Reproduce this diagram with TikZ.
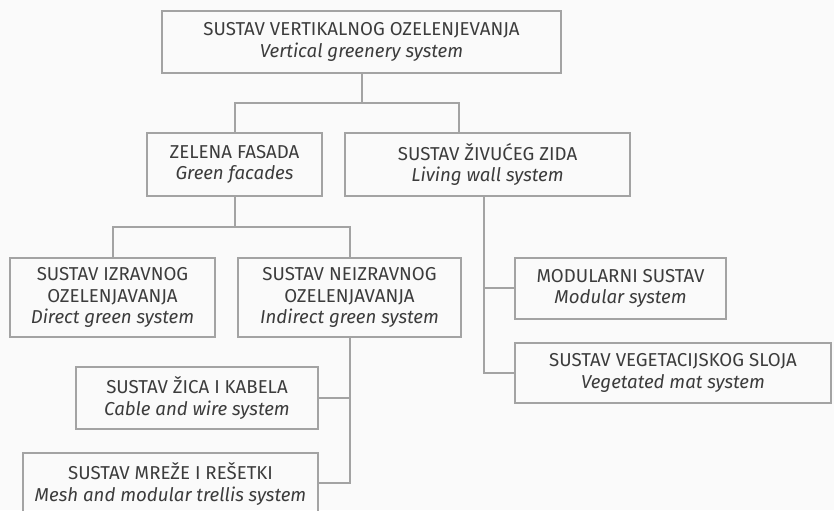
\documentclass[tikz,border=0pt]{standalone}
\usepackage{fontspec}
\setmainfont{Fira Sans}
\definecolor{txt}{HTML}{3C3C3C}
\definecolor{ln}{HTML}{A3A3A3}
\begin{document}
\begin{tikzpicture}[x=0.75pt,y=-0.75pt,
  box/.style={draw=ln,line width=0.8pt,rectangle,inner sep=0pt,align=center,text=txt,font=\fontsize{14}{16.1}\selectfont},
  conn/.style={draw=ln,line width=0.8pt}]
\useasboundingbox (0,0) rectangle (834,510);
\clip (0,0) rectangle (834,510);
\fill[white!98!black] (0,0) rectangle (834,510);
\node[box,minimum width=299.25pt,minimum height=46.5pt] (top) at (361.5,42) {SUSTAV VERTIKALNOG OZELENJEVANJA\\\textit{Vertical greenery system}};
\node[box,minimum width=131.25pt,minimum height=47.25pt] (zf) at (234.5,164.5) {ZELENA FASADA\\\textit{Green facades}};
\node[box,minimum width=213.75pt,minimum height=47.25pt] (lw) at (487.5,164.5) {SUSTAV ŽIVUĆEG ZIDA\\\textit{Living wall system}};
\node[box,minimum width=153.75pt,minimum height=59.25pt] (dir) at (112.5,297.5) {SUSTAV IZRAVNOG\\OZELENJAVANJA\\\textit{Direct green system}};
\node[box,minimum width=167.25pt,minimum height=59.25pt] (ind) at (349.5,297.5) {SUSTAV NEIZRAVNOG\\OZELENJAVANJA\\\textit{Indirect green system}};
\node[box,minimum width=181.5pt,minimum height=46.5pt] (cab) at (197,398) {SUSTAV ŽICA I KABELA\\\textit{Cable and wire system}};
\node[box,minimum width=221.25pt,minimum height=46.5pt] (mesh) at (170.5,484) {SUSTAV MREŽE I REŠETKI\\\textit{Mesh and modular trellis system}};
\node[box,minimum width=158.25pt,minimum height=45.75pt] (mod) at (620.5,288.5) {MODULARNI SUSTAV\\\textit{Modular system}};
\node[box,minimum width=237pt,minimum height=45pt] (veg) at (673,373) {SUSTAV VEGETACIJSKOG SLOJA\\\textit{Vegetated mat system}};
% junctions
\coordinate (j1) at (362,103);
\coordinate (j1l) at (235,103);
\coordinate (j1r) at (459,103);
\coordinate (j2) at (235,227);
\coordinate (j2l) at (113,227);
\coordinate (j2r) at (350,227);
\coordinate (j3a) at (350,398);
\coordinate (j3b) at (350,483);
\coordinate (j4a) at (484,288);
\coordinate (j4b) at (484,373);
\draw[conn] (top.south -| j1) -- (j1);
\draw[conn] (zf.north -| j1l) -- (j1l) -- (j1r) -- (lw.north -| j1r);
\draw[conn] (zf.south -| j2) -- (j2);
\draw[conn] (dir.north -| j2l) -- (j2l) -- (j2r) -- (ind.north -| j2r);
\draw[conn] (ind.south -| j3a) -- (j3b) -- (mesh.east |- j3b);
\draw[conn] (cab.east |- j3a) -- (j3a);
\draw[conn] (lw.south -| j4a) -- (j4b) -- (veg.west |- j4b);
\draw[conn] (j4a) -- (mod.west |- j4a);
\end{tikzpicture}
\end{document}
